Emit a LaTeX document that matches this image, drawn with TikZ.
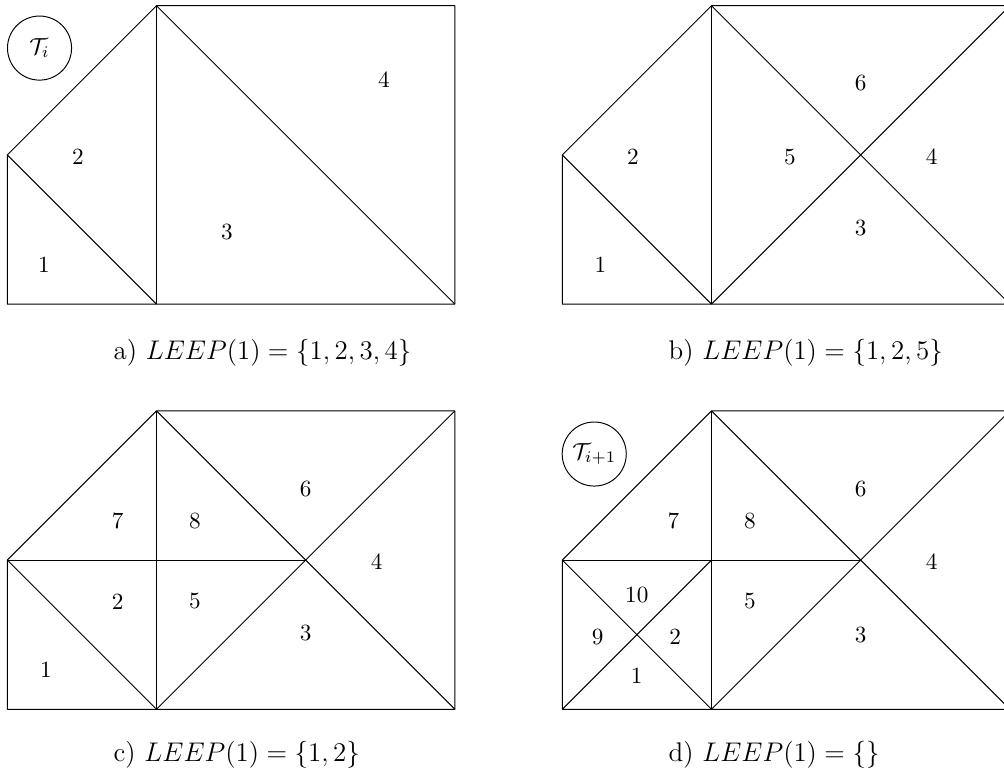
\documentclass[tikz,border=0pt]{standalone}
\usepackage{amsmath}
\begin{document}
\begin{tikzpicture}[x=0.6676pt,y=-0.6676pt,
  mesh/.style={line width=0.65pt, line join=round},
  lbl/.style={inner sep=0pt, font=\fontsize{10}{12}\selectfont, scale=1.55, transform shape},
  tag/.style={circle, draw, line width=0.65pt, minimum size=27.6pt, inner sep=0pt, font=\fontsize{10}{12}\selectfont, scale=1.55, transform shape},
  captxt/.style={inner sep=0pt, anchor=base west, font=\fontsize{12}{14}\selectfont, scale=1.5, transform shape}]
\useasboundingbox (0,0) rectangle (1004,778);
% ---------- panel a ----------
\begin{scope}[shift={(7.3,304.1)}, x=99.6pt, y=99.6pt]
  \draw[mesh] (0,0) -- (3,0) -- (3,2) -- (1,2) -- (0,1) -- cycle;
  \draw[mesh] (1,0) -- (1,2);
  \draw[mesh] (0,1) -- (1,0);
  \draw[mesh] (1,2) -- (3,0);
  \node[tag] (ta) at (0.216,1.716) {$\mathcal{T}_i$};
  \node[lbl] (a1) at (0.246,0.262) {1};
  \node[lbl] (a2) at (0.474,0.986) {2};
  \node[lbl] (a3) at (1.472,0.483) {3};
  \node[lbl] (a4) at (2.525,1.502) {4};
  \node[captxt] (capa) at (0.71,-0.37) {a) $LEEP(1) = \{1,2,3,4\}$};
\end{scope}
% ---------- panel b ----------
\begin{scope}[shift={(562.3,304.1)}, x=99.6pt, y=99.6pt]
  \draw[mesh] (0,0) -- (3,0) -- (3,2) -- (1,2) -- (0,1) -- cycle;
  \draw[mesh] (1,0) -- (1,2);
  \draw[mesh] (0,1) -- (1,0);
  \draw[mesh] (1,2) -- (3,0);
  \draw[mesh] (1,0) -- (3,2);
  \node[lbl] (b1) at (0.255,0.262) {1};
  \node[lbl] (b2) at (0.473,0.987) {2};
  \node[lbl] (b3) at (2.0,0.508) {3};
  \node[lbl] (b4) at (2.476,0.988) {4};
  \node[lbl] (b5) at (1.526,0.988) {5};
  \node[lbl] (b6) at (2.0,1.484) {6};
  \node[captxt] (capb) at (0.71,-0.37) {b) $LEEP(1) = \{1,2,5\}$};
\end{scope}
% ---------- panel c ----------
\begin{scope}[shift={(7.3,709.3)}, x=99.6pt, y=99.6pt]
  \draw[mesh] (0,0) -- (3,0) -- (3,2) -- (1,2) -- (0,1) -- cycle;
  \draw[mesh] (1,0) -- (1,2);
  \draw[mesh] (0,1) -- (1,0);
  \draw[mesh] (1,2) -- (3,0);
  \draw[mesh] (1,0) -- (3,2);
  \draw[mesh] (0,1) -- (2,1);
  \node[lbl] (c1) at (0.259,0.264) {1};
  \node[lbl] (c2) at (0.740,0.723) {2};
  \node[lbl] (c3) at (2.0,0.509) {3};
  \node[lbl] (c4) at (2.476,0.990) {4};
  \node[lbl] (c5) at (1.258,0.723) {5};
  \node[lbl] (c6) at (2.0,1.475) {6};
  \node[lbl] (c7) at (0.740,1.263) {7};
  \node[lbl] (c8) at (1.258,1.263) {8};
  \node[captxt] (capc) at (0.71,-0.35) {c) $LEEP(1) = \{1,2\}$};
\end{scope}
% ---------- panel d ----------
\begin{scope}[shift={(562.3,709.3)}, x=99.6pt, y=99.6pt]
  \draw[mesh] (0,0) -- (3,0) -- (3,2) -- (1,2) -- (0,1) -- cycle;
  \draw[mesh] (1,0) -- (1,2);
  \draw[mesh] (0,1) -- (1,0);
  \draw[mesh] (1,2) -- (3,0);
  \draw[mesh] (1,0) -- (3,2);
  \draw[mesh] (0,1) -- (2,1);
  \draw[mesh] (0,0) -- (1,1);
  \node[tag] (td) at (0.214,1.711) {$\mathcal{T}_{i+1}$};
  \node[lbl] (d1) at (0.499,0.224) {1};
  \node[lbl] (d2) at (0.757,0.487) {2};
  \node[lbl] (d3) at (2.0,0.50) {3};
  \node[lbl] (d4) at (2.476,0.990) {4};
  \node[lbl] (d5) at (1.258,0.723) {5};
  \node[lbl] (d6) at (2.0,1.475) {6};
  \node[lbl] (d7) at (0.745,1.263) {7};
  \node[lbl] (d8) at (1.258,1.263) {8};
  \node[lbl] (d9) at (0.237,0.487) {9};
  \node[lbl] (d10) at (0.499,0.768) {10};
  \node[captxt] (capd) at (0.71,-0.35) {d) $LEEP(1) = \{\}$};
\end{scope}
\end{tikzpicture}
\end{document}
